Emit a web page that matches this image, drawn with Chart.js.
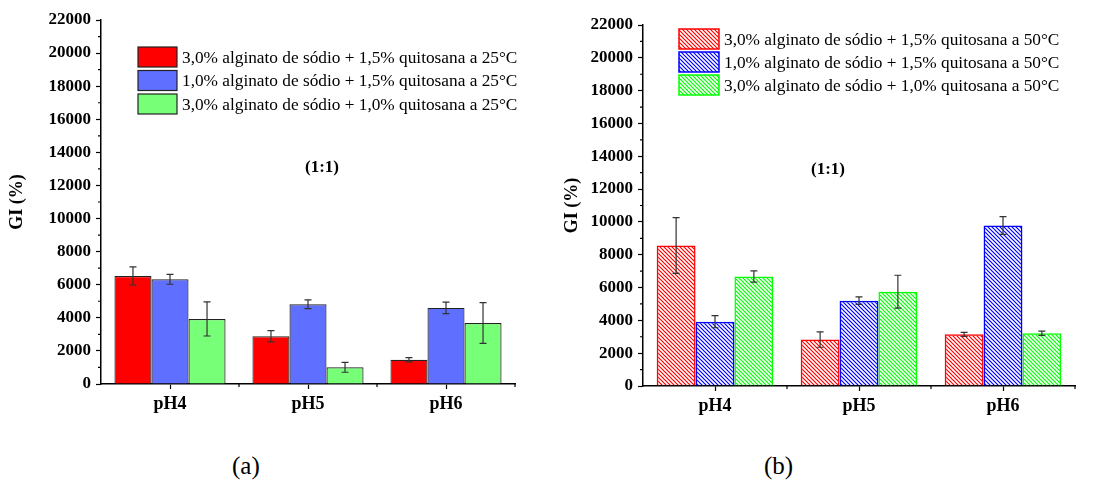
<!DOCTYPE html>
<html>
<head>
<meta charset="utf-8">
<script src="https://cdn.jsdelivr.net/npm/chart.js@4.4.0/dist/chart.umd.min.js"></script>
<style>
  body { margin: 0; background: #fff; width: 1097px; height: 490px; position: relative; overflow: hidden; }
  .box { position: absolute; top: 0; width: 548px; height: 430px; }
  .cap { position: absolute; top: 452px; font-family: "Liberation Serif", serif; font-size: 25px; }
</style>
</head>
<body>
<div class="box" style="left:0"><canvas id="chartA"></canvas></div>
<div class="box" style="left:549px"><canvas id="chartB"></canvas></div>
<div class="cap" style="left:232px">(a)</div>
<div class="cap" style="left:764px">(b)</div>
<script>
var categories = ["pH4", "pH5", "pH6"];

// (a) 25°C
var labelsA = [
  "3,0% alginato de sódio + 1,5% quitosana a 25°C",
  "1,0% alginato de sódio + 1,5% quitosana a 25°C",
  "3,0% alginato de sódio + 1,0% quitosana a 25°C",
];
var redA = [6530, 2880, 1470];
var blueA = [6330, 4820, 4600];
var greenA = [3930, 1010, 3690];
var redErrA = [545, 340, 130];
var blueErrA = [300, 260, 350];
var greenErrA = [1030, 300, 1230];

// (b) 50°C
var labelsB = [
  "3,0% alginato de sódio + 1,5% quitosana a 50°C",
  "1,0% alginato de sódio + 1,5% quitosana a 50°C",
  "3,0% alginato de sódio + 1,0% quitosana a 50°C",
];
var redB = [8560, 2830, 3150];
var blueB = [3920, 5200, 9780];
var greenB = [6670, 5750, 3210];
var redErrB = [1700, 470, 120];
var blueErrB = [370, 230, 540];
var greenErrB = [340, 1000, 130];

var yTicks = [0, 2000, 4000, 6000, 8000, 10000, 12000, 14000, 16000, 18000, 20000, 22000];

var SERIF = "'Liberation Serif', 'Times New Roman', serif";

function hatch(color) {
  var c = document.createElement("canvas");
  c.width = 4;
  c.height = 4;
  var ctx = c.getContext("2d");
  ctx.strokeStyle = color;
  ctx.lineWidth = 1.2;
  ctx.beginPath();
  ctx.moveTo(-1, -1); ctx.lineTo(5, 5);
  ctx.moveTo(3, -1); ctx.lineTo(5, 1);
  ctx.moveTo(-1, 3); ctx.lineTo(1, 5);
  ctx.stroke();
  return ctx.createPattern(c, "repeat");
}

// error bars, minor ticks, legend and the "(1:1)" note
var extras = {
  id: "extras",
  afterDatasetsDraw: function (chart, args, opts) {
    var ctx = chart.ctx;
    var y = chart.scales.y;
    ctx.save();
    ctx.strokeStyle = "#333";
    ctx.lineWidth = 1.2;
    chart.data.datasets.forEach(function (ds, i) {
      var meta = chart.getDatasetMeta(i);
      meta.data.forEach(function (bar, j) {
        var v = ds.data[j], e = ds.err[j];
        var top = y.getPixelForValue(v + e);
        var bot = y.getPixelForValue(v - e);
        ctx.beginPath();
        ctx.moveTo(bar.x, top); ctx.lineTo(bar.x, bot);
        ctx.moveTo(bar.x - 3.5, top); ctx.lineTo(bar.x + 3.5, top);
        ctx.moveTo(bar.x - 3.5, bot); ctx.lineTo(bar.x + 3.5, bot);
        ctx.stroke();
      });
    });
    ctx.restore();
  },
  afterDraw: function (chart, args, opts) {
    var ctx = chart.ctx;
    var y = chart.scales.y;
    var x = chart.scales.x;
    var area = chart.chartArea;
    ctx.save();
    ctx.strokeStyle = "#000";
    ctx.lineWidth = 1.2;
    ctx.beginPath();
    for (var k = 1; k < yTicks.length; k++) {
      var py = y.getPixelForValue((yTicks[k - 1] + yTicks[k]) / 2);
      ctx.moveTo(area.left, py); ctx.lineTo(area.left - 3, py);
    }
    for (var c = 0; c < categories.length; c++) {
      var px = x.getPixelForValue(c) + (x.getPixelForValue(1) - x.getPixelForValue(0)) / 2;
      ctx.moveTo(px, area.bottom); ctx.lineTo(px, area.bottom + 3);
    }
    ctx.stroke();

    // legend
    ctx.font = "17.3px " + SERIF;
    ctx.textBaseline = "middle";
    ctx.textAlign = "left";
    chart.data.datasets.forEach(function (ds, i) {
      var lx = opts.legendX, ly = opts.legendY + i * opts.legendStep;
      ctx.fillStyle = ds.backgroundColor;
      ctx.fillRect(lx, ly, opts.boxW, opts.boxH);
      ctx.strokeStyle = ds.borderColor;
      ctx.lineWidth = ds.borderWidth;
      ctx.strokeRect(lx, ly, opts.boxW, opts.boxH);
      ctx.fillStyle = "#000";
      ctx.fillText(ds.label, lx + opts.boxW + 5, ly + opts.boxH / 2 + 1);
    });

    ctx.font = "bold 17px " + SERIF;
    ctx.textAlign = "center";
    ctx.fillText("(1:1)", opts.noteX, opts.noteY);
    ctx.restore();
  },
};

function makeChart(id, labels, series, errs, fills, borders, bw, lay) {
  var datasets = series.map(function (s, i) {
    return {
      label: labels[i],
      data: s,
      err: errs[i],
      backgroundColor: fills[i],
      borderColor: borders[i],
      borderWidth: bw,
      barPercentage: 1.0,
      categoryPercentage: lay.catPct,
    };
  });
  return new Chart(document.getElementById(id), {
    type: "bar",
    data: { labels: categories, datasets: datasets },
    plugins: [extras],
    options: {
      responsive: true,
      maintainAspectRatio: false,
      animation: false,
      layout: { padding: { left: lay.padLeft, right: lay.padRight, top: lay.padTop, bottom: 0 } },
      plugins: {
        legend: { display: false },
        tooltip: { enabled: false },
        extras: lay.extras,
      },
      scales: {
        x: {
          afterFit: function (s) { s.height = lay.xHeight; },
          grid: { display: true, offset: false, drawOnChartArea: false, tickLength: 5, tickWidth: 1.2, tickColor: "#000" },
          border: { display: true, color: "#000", width: 1.5 },
          ticks: { color: "#000", padding: 5, font: { family: SERIF, size: 18, weight: "bold" } },
        },
        y: {
          min: 0,
          max: 22000,
          afterFit: function (s) { s.width = lay.yWidth; },
          afterBuildTicks: function (s) { s.ticks = yTicks.map(function (v) { return { value: v }; }); },
          grid: { display: true, drawOnChartArea: false, tickLength: 5, tickWidth: 1.2, tickColor: "#000" },
          border: { display: true, color: "#000", width: 1.5 },
          ticks: {
            color: "#000",
            padding: 5,
            font: { family: SERIF, size: 17, weight: "bold" },
            callback: function (v) { return String(v); },
          },
          title: {
            display: true,
            text: "GI (%)",
            color: "#000",
            padding: { top: 0, bottom: 0 },
            font: { family: SERIF, size: 18, weight: "bold" },
          },
        },
      },
    },
  });
}

makeChart("chartA", labelsA, [redA, blueA, greenA], [redErrA, blueErrA, greenErrA],
  ["#ff0000", "#5f6fff", "#77ff77"], ["#222", "#222", "#222"], 1.2,
  {
    catPct: 0.805, padLeft: 7, padRight: 33, padTop: 20, xHeight: 46, yWidth: 94,
    extras: { legendX: 138, legendY: 47, legendStep: 23.5, boxW: 39, boxH: 20, noteX: 322, noteY: 168 },
  });

makeChart("chartB", labelsB, [redB, blueB, greenB], [redErrB, blueErrB, greenErrB],
  [hatch("#ff0000"), hatch("#0000ff"), hatch("#00ff00")], ["#ff0000", "#0000ff", "#00ff00"], 1.5,
  {
    catPct: 0.81, padLeft: 13, padRight: 22, padTop: 25, xHeight: 44, yWidth: 81,
    extras: { legendX: 130, legendY: 29, legendStep: 23, boxW: 40, boxH: 20, noteX: 279, noteY: 170 },
  });
</script>
</body>
</html>
